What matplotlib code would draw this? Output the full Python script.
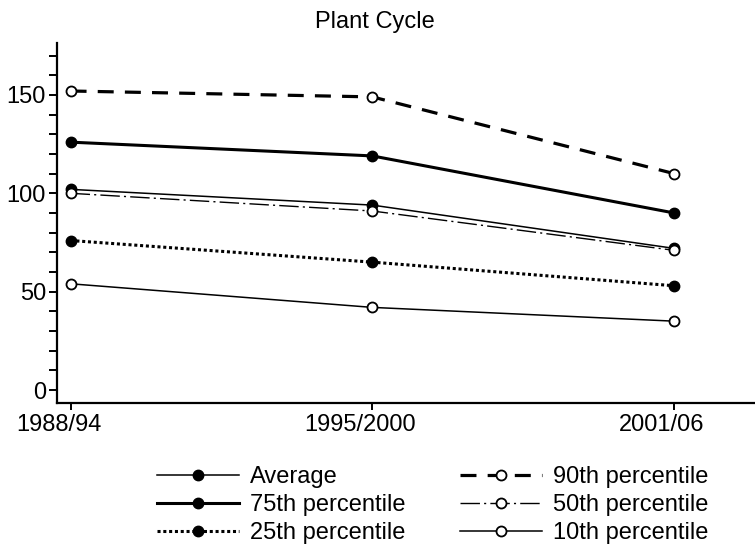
import matplotlib
matplotlib.use('Agg')
from matplotlib import pyplot as plt
from matplotlib.ticker import MultipleLocator
from matplotlib.transforms import ScaledTranslation

plt.rcParams['font.family'] = ['Liberation Sans', 'DejaVu Sans']
plt.rcParams['font.size'] = 17

periods = ['1988/94', '1995/2000', '2001/06']

average = [102, 94, 72]
p75 = [126, 119, 90]
p25 = [76, 65, 53]
p90 = [152, 149, 110]
p50 = [100, 91, 71]
p10 = [54, 42, 35]

x = list(range(len(periods)))

fig = plt.figure(figsize=(7.55, 5.48), dpi=100)
ax = fig.add_axes([57 / 755, 1 - 403 / 548, 1 - 57 / 755, (403 - 43) / 548])

filled = dict(marker='o', markersize=7.5, markerfacecolor='black',
              markeredgecolor='black', color='black')
hollow = dict(marker='o', markersize=7.2, markerfacecolor='white',
              markeredgecolor='black', markeredgewidth=1.3, color='black')

h_avg, = ax.plot(x, average, lw=1.1, label='Average', zorder=3, **filled)
h_75, = ax.plot(x, p75, lw=2.2, label='75th percentile', zorder=3, **filled)
h_25, = ax.plot(x, p25, lw=2.2, linestyle=(0, (1, 0.9)),
                label='25th percentile', zorder=3, **filled)
h_90, = ax.plot(x, p90, lw=2.3, linestyle=(0, (5, 3.5)),
                label='90th percentile', zorder=4, **hollow)
h_50, = ax.plot(x, p50, lw=1.0, linestyle=(0, (14, 3, 1.5, 3)),
                label='50th percentile', zorder=4, **hollow)
h_10, = ax.plot(x, p10, lw=1.1, label='10th percentile', zorder=4, **hollow)

ax.set_xlim(-0.045, 2.268)
ax.set_ylim(-6.6, 176.4)
ax.set_xticks(x)
ax.set_xticklabels(periods)
ax.yaxis.set_major_locator(MultipleLocator(50))
ax.yaxis.set_minor_locator(MultipleLocator(10))
ax.set_yticks([0, 50, 100, 150])

for s in ['top', 'right']:
    ax.spines[s].set_visible(False)
for s in ['left', 'bottom']:
    ax.spines[s].set_linewidth(1.6)

ax.tick_params(axis='y', which='major', length=6, width=1.4, pad=2)
ax.tick_params(axis='y', which='minor', length=5.5, width=1.4)
ax.tick_params(axis='x', length=5, width=1.4, pad=3)

# x labels sit a bit left of their ticks in the original
shift = ScaledTranslation(-0.12, 0, fig.dpi_scale_trans)
for lbl in ax.get_xticklabels():
    lbl.set_transform(lbl.get_transform() + shift)

fig.text(0.497, 1 - 22 / 548, 'Plant Cycle', ha='center', va='center', fontsize=17)

fig.legend(handles=[h_avg, h_75, h_25, h_90, h_50, h_10], ncol=2,
           loc='center', bbox_to_anchor=(0.573, 0.078), frameon=False,
           numpoints=1, handlelength=3.5, handletextpad=0.45,
           columnspacing=2.3, labelspacing=0.25, borderpad=0)

fig.savefig('out.png', dpi=100)
